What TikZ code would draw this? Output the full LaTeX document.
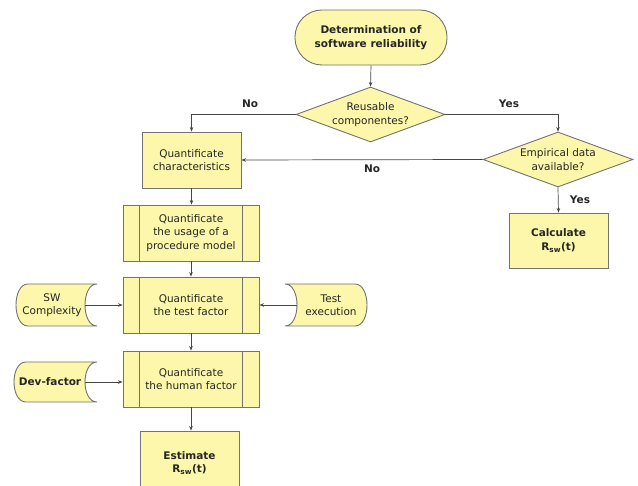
\documentclass[tikz,border=0pt]{standalone}
\usepackage{fontspec}
\setmainfont{DejaVu Sans}
\usetikzlibrary{shapes.geometric,arrows.meta}
\definecolor{boxfill}{RGB}{252,247,170}
\definecolor{boxline}{RGB}{115,115,115}
\definecolor{arrline}{RGB}{70,70,70}
\tikzset{
  every node/.style={font=\fontsize{10.5}{13.5}\selectfont, align=center, text=black!85},
  procbox/.style={draw=boxline, fill=boxfill, line width=0.9pt, inner sep=0pt},
  termbox/.style={procbox, rounded corners=27pt, minimum width=152pt, minimum height=55pt},
  decbox/.style={procbox, diamond, minimum width=149pt, minimum height=55pt},
  shapefill/.style={draw=boxline, fill=boxfill, line width=0.9pt},
  conn/.style={draw=arrline, line width=0.7pt, -{Stealth[length=4.5pt,width=3.5pt]}},
  lbl/.style={font=\fontsize{10.5}{13.5}\selectfont\bfseries}
}
\begin{document}
\begin{tikzpicture}[x=1pt,y=-1pt]
\clip (0,0) rectangle (638,486);
\fill[white] (0,0) rectangle (638,486);

% terminal
\node[termbox, font=\fontsize{10.5}{13.5}\selectfont\bfseries] (term) at (371,37.5) {Determination of\\software reliability};

% decisions
\node[decbox] (d1) at (370.5,114.5) {};
\node (d1t) at (d1) {Reusable\\componentes?};
\node[decbox, minimum width=150pt] (d2) at (558,159.5) {};
\node (d2t) at (d2) {Empirical data\\available?};

% boxes
\node[procbox, minimum width=99pt, minimum height=56pt] (b1) at (191.5,160) {Quantificate\\characteristics};
\node[procbox, minimum width=99pt, minimum height=55pt, font=\fontsize{10.5}{13.5}\selectfont\bfseries] (calc) at (558.5,240.5) {Calculate\\R\textsubscript{sw}(t)};

\node[procbox, minimum width=136pt, minimum height=56pt] (b2) at (191,233) {Quantificate\\the usage of a\\procedure model};
\node[procbox, minimum width=136pt, minimum height=56pt] (b3) at (191,305) {Quantificate\\the test factor};
\node[procbox, minimum width=136pt, minimum height=56pt] (b4) at (191,379) {Quantificate\\the human factor};
\foreach \b in {b2,b3,b4}{
  \draw[boxline, line width=0.9pt] ([xshift=17pt]\b.north west) -- ([xshift=17pt]\b.south west);
  \draw[boxline, line width=0.9pt] ([xshift=-17pt]\b.north east) -- ([xshift=-17pt]\b.south east);
}
\node[procbox, minimum width=99pt, minimum height=62pt, font=\fontsize{10.5}{13.5}\selectfont\bfseries, text depth=0pt] (est) at (189.5,462) {Estimate\\R\textsubscript{sw}(t)};

% data shapes
\draw[shapefill] (97,284) -- (28,284) .. controls (12,284) and (12,326) .. (28,326) -- (97,326) .. controls (81,326) and (81,284) .. (97,284);
\node (sw) at (52,305) {SW\\Complexity};
\coordinate (swr) at (85,305);

\draw[shapefill] (285,284) -- (355,284) .. controls (371,284) and (371,326) .. (355,326) -- (285,326) .. controls (301,326) and (301,284) .. (285,284);
\node (te) at (331,305) {Test\\execution};
\coordinate (tel) at (297,305);

\draw[shapefill] (97,362) -- (26,362) .. controls (10,362) and (10,402) .. (26,402) -- (97,402) .. controls (81,402) and (81,362) .. (97,362);
\node[font=\fontsize{10.5}{13.5}\selectfont\bfseries] (dev) at (50,382) {Dev-factor};
\coordinate (devr) at (85,382);

% connectors
\draw[conn] (term.south) -- (d1.north);
\draw[conn] (d1.west) -| (b1.north);
\draw[conn] (d1.east) -| (d2.north);
\draw[conn] (d2.west) -- (b1.east);
\draw[conn] (d2.south) -- (calc.north);
\draw[conn] (b1.south) -- (b1.south |- b2.north);
\draw[conn] (b2.south) -- (b3.north);
\draw[conn] (swr) -- (b3.west);
\draw[conn] (tel) -- (b3.east);
\draw[conn] (b3.south) -- (b4.north);
\draw[conn] (devr) -- (devr -| b4.west);
\draw[conn] (b4.south) -- (b4.south |- est.north);

% labels
\node[lbl] (lno1) at (250,104) {No};
\node[lbl] (lyes1) at (509,104) {Yes};
\node[lbl] (lno2) at (372,168.5) {No};
\node[lbl] (lyes2) at (580,199.5) {Yes};
\end{tikzpicture}
\end{document}
